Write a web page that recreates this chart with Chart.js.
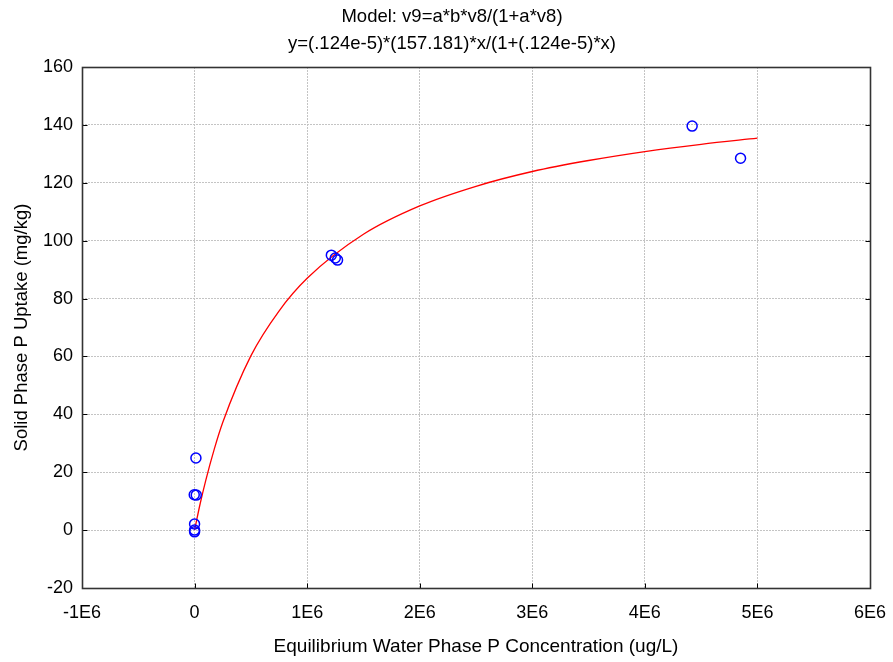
<!DOCTYPE html>
<html>
<head>
<meta charset="utf-8">
<script src="https://cdn.jsdelivr.net/npm/chart.js@4/dist/chart.umd.min.js"></script>
<style>
  body { margin: 0; background: #fff; }
  #wrap { width: 893px; height: 662px; }
</style>
</head>
<body>
<div id="wrap"><canvas id="c"></canvas></div>
<script>
// observed points (x = ug/L, y = mg/kg)
const obsX = [4.42e6, 4.85e6, 1.215e6, 1.25e6, 1.27e6, 0.012e6, -0.003e6, 0.015e6, 0.0, 0.0, 0.0];
const obsY = [139.6, 128.5, 95.0, 94.0, 93.3, 24.9, 12.2, 12.1, 2.1, 0.0, -0.6];

// fitted curve
const fitX = [0, 0.05e6, 0.1e6, 0.175e6, 0.25e6, 0.5e6, 0.75e6, 1e6, 1.5e6, 2e6, 2.5e6, 3e6, 3.5e6, 4e6, 4.5e6, 5e6];
const fitY = [0, 9.2, 17.3, 28.0, 37.2, 60.2, 75.7, 87.0, 102.2, 112.0, 118.8, 123.9, 127.7, 130.8, 133.3, 135.4];

const xTicks = ['-1E6', '0', '1E6', '2E6', '3E6', '4E6', '5E6', '6E6'];
const titleLines = ['Model: v9=a*b*v8/(1+a*v8)', 'y=(.124e-5)*(157.181)*x/(1+(.124e-5)*x)'];

// black box round the plot, with short inward tick marks
const frame = {
  id: 'frame',
  afterLayout: (chart) => {
    // the title sits a bit right of the page centre
    const tb = chart.titleBlock;
    tb.left = 34;
    tb.right = 870;
    tb.width = tb.right - tb.left;
  },
  afterDraw: (chart) => {
    const a = chart.chartArea;
    const ctx = chart.ctx;
    const L = Math.round(a.left) + 0.5, R = Math.round(a.right) + 0.5;
    const T = Math.round(a.top) + 0.5, B = Math.round(a.bottom) + 0.5;
    ctx.save();
    ctx.strokeStyle = '#000';
    ctx.lineWidth = 1;
    ctx.beginPath();
    chart.scales.x.ticks.forEach((t) => {
      const px = Math.round(chart.scales.x.getPixelForValue(t.value)) + 0.5;
      ctx.moveTo(px, B); ctx.lineTo(px, B - 5);
    });
    chart.scales.y.ticks.forEach((t) => {
      const py = Math.round(chart.scales.y.getPixelForValue(t.value)) + 0.5;
      ctx.moveTo(L, py); ctx.lineTo(L + 5, py);
      ctx.moveTo(R, py); ctx.lineTo(R - 5, py);
    });
    ctx.stroke();
    ctx.strokeStyle = '#333';
    ctx.lineWidth = 1.6;
    ctx.strokeRect(L, T, R - L, B - T);
    ctx.restore();
  }
};

const zip = (xs, ys) => xs.map((x, i) => ({ x: x, y: ys[i] }));

new Chart(document.getElementById('c'), {
  type: 'scatter',
  plugins: [frame],
  data: {
    datasets: [
      {
        label: 'obs',
        data: zip(obsX, obsY),
        pointRadius: 5,
        pointBorderWidth: 1.5,
        pointBorderColor: '#0000ff',
        pointBackgroundColor: 'rgba(0,0,0,0)',
        order: 1
      },
      {
        label: 'fit',
        data: zip(fitX, fitY),
        showLine: true,
        pointRadius: 0,
        borderColor: '#ff0000',
        borderWidth: 1.3,
        cubicInterpolationMode: 'monotone',
        order: 2
      }
    ]
  },
  options: {
    responsive: true,
    maintainAspectRatio: false,
    animation: false,
    layout: { padding: { left: 0, right: 23, top: 0, bottom: 0 } },
    plugins: {
      legend: { display: false },
      tooltip: { enabled: false },
      title: {
        display: true,
        text: titleLines,
        color: '#000',
        font: { family: 'Liberation Sans', size: 18.5, weight: 'normal', lineHeight: 1.46 },
        padding: { top: 3.5, bottom: 9.5 }
      }
    },
    scales: {
      x: {
        type: 'linear',
        min: -1e6,
        max: 6e6,
        afterBuildTicks: (s) => { s.ticks = xTicks.map((t, i) => ({ value: (i - 1) * 1e6 })); },
        afterFit: (s) => { s.height = 74; s.paddingRight = 0; s.paddingLeft = 0; },
        ticks: {
          color: '#000',
          padding: 14,
          maxRotation: 0,
          font: { family: 'Liberation Sans', size: 18 },
          callback: (v, i) => xTicks[i]
        },
        grid: { color: '#c4c4c4', lineWidth: 1, drawTicks: false, tickLength: 0 },
        border: { display: false, dash: [2, 1] },
        title: {
          display: true,
          text: 'Equilibrium Water Phase P Concentration (ug/L)',
          color: '#000',
          font: { family: 'Liberation Sans', size: 19 },
          padding: { top: 8, bottom: 4 }
        }
      },
      y: {
        min: -20,
        max: 160,
        afterFit: (s) => { s.width = 82; },
        ticks: {
          stepSize: 20,
          color: '#000',
          padding: 9,
          font: { family: 'Liberation Sans', size: 18 }
        },
        grid: { color: '#c4c4c4', lineWidth: 1, drawTicks: false, tickLength: 0 },
        border: { display: false, dash: [2, 1] },
        title: {
          display: true,
          text: 'Solid Phase P Uptake (mg/kg)',
          color: '#000',
          font: { family: 'Liberation Sans', size: 18.5 },
          padding: { top: 11, bottom: 4 }
        }
      }
    }
  }
});
</script>
</body>
</html>
